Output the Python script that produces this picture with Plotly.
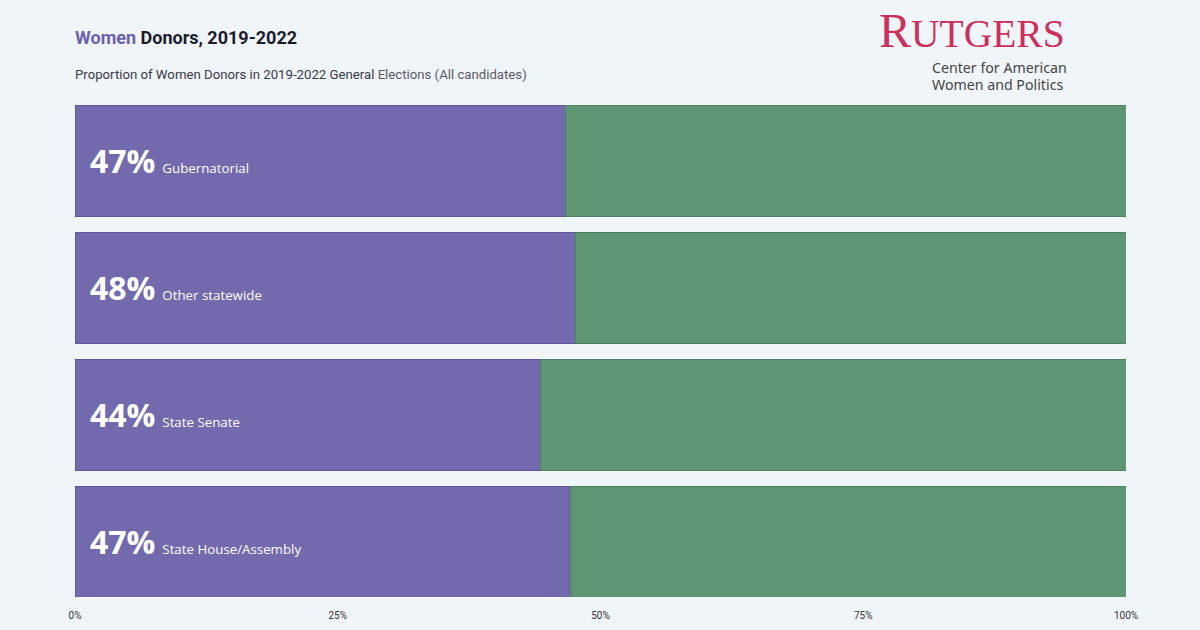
import plotly.graph_objects as go

categories = ["Gubernatorial", "Other statewide", "State Senate", "State House/Assembly"]
women = [46.7, 47.6, 44.3, 47.1]
men = [100 - v for v in women]
tick_vals = [0, 25, 50, 75, 100]
tick_text = ["0%", "25%", "50%", "75%", "100%"]

PURPLE = "#7369ad"
GREEN = "#5e9573"
BG = "#f0f5f9"
GAP = 0.126

fig = go.Figure()
fig.add_trace(go.Bar(y=categories, x=women, orientation="h", name="Women",
                     marker=dict(color=PURPLE, line=dict(color="#5f5598", width=1)),
                     hoverinfo="skip"))
fig.add_trace(go.Bar(y=categories, x=men, orientation="h", name="Men",
                     marker=dict(color=GREEN, line=dict(color="#4f8263", width=1)),
                     hoverinfo="skip"))

annotations = []
for cat, v in zip(categories, women):
    annotations.append(dict(
        x=0, y=cat, xref="x", yref="y", xanchor="left", yanchor="middle",
        xshift=13, showarrow=False, align="left",
        text=f"<span style='font-size:32px'><b>{round(v)}%</b></span>&nbsp;&nbsp;<span style='font-size:13.3px'>{cat}</span>",
        font=dict(family="Open Sans", color="white", size=13.3),
    ))

n = len(categories)
fig.update_layout(
    width=1200, height=630,
    paper_bgcolor=BG, plot_bgcolor=BG,
    barmode="stack", bargap=GAP, showlegend=False,
    margin=dict(l=75, r=74, t=105, b=33, autoexpand=False),
    xaxis=dict(range=[0, 100], tickvals=tick_vals, ticktext=tick_text,
               showgrid=False, zeroline=False, showline=False, automargin=False,
               tickfont=dict(size=10, color="#333", family="Roboto"),
               ticks="outside", ticklen=9, tickcolor=BG,
               fixedrange=True),
    yaxis=dict(range=[n - 0.5 - GAP / 2, -0.5 + GAP / 2], showticklabels=False, showgrid=False,
               zeroline=False, fixedrange=True, automargin=False),
    annotations=annotations,
)

W_PLOT = 1200 - 75 - 74
H_PLOT = 630 - 105 - 33

def pp(xp, yp, text, size, color, family, xanchor="left", yanchor="middle"):
    return dict(x=(xp - 75) / W_PLOT, y=(630 - 33 - yp) / H_PLOT, xref="paper", yref="paper",
                xanchor=xanchor, yanchor=yanchor, showarrow=False, align="left",
                text=text, font=dict(size=size, color=color, family=family))

fig.add_annotation(pp(73, 37, "<b><span style='color:#6c5fae'>Women</span> Donors, 2019-2022</b>",
                      18, "#1b1b2b", "Roboto"))
fig.add_annotation(pp(73, 74, "Proportion of Women Donors in 2019-2022 General <span style='color:#5a5a66'>Elections (All candidates)</span>",
                      13.2, "#3a3a48", "Roboto"))
fig.add_annotation(pp(877, 30, "<span style='font-size:48px'>R</span>UTGERS",
                      39.5, "#cc2f5b", "Liberation Serif"))
fig.add_annotation(pp(930, 67.5, "Center for American", 14.2, "#454545", "Noto Sans"))
fig.add_annotation(pp(930, 84.5, "Women and Politics", 14.2, "#454545", "Noto Sans"))

fig.write_html("out.html", config={"displayModeBar": False},
               post_script="document.body.style.margin='0';")
